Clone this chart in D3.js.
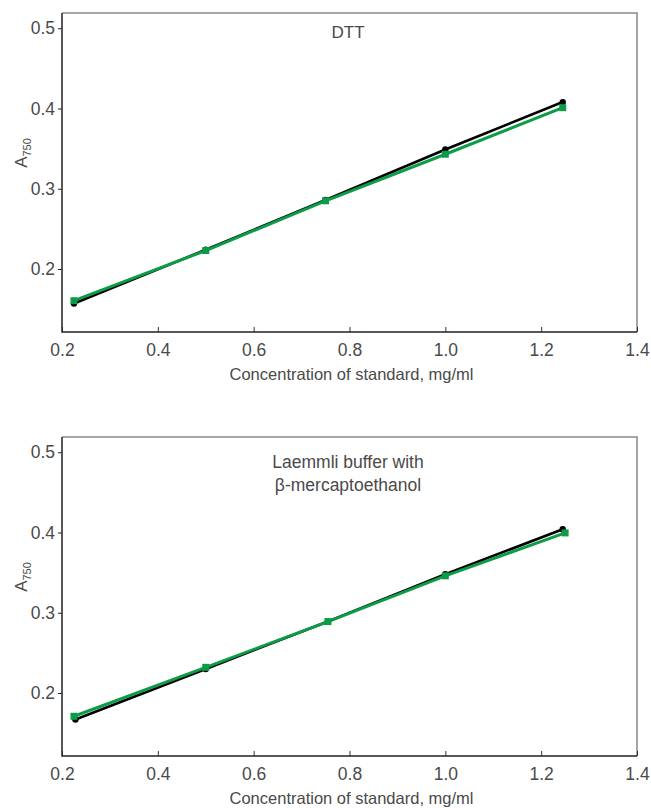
<!DOCTYPE html>
<html>
<head>
<meta charset="utf-8">
<script src="https://cdn.jsdelivr.net/npm/d3@7"></script>
<style>
  body { margin: 0; background: #fff; }
  text { font-family: "Liberation Sans", Arial, sans-serif; fill: #4a4a4a; }
</style>
</head>
<body>
<div id="chart"></div>
<script>
// data
const conc = [0.225, 0.5, 0.75, 1.0, 1.245];
const dttBlack = [0.157, 0.224, 0.286, 0.349, 0.408];
const dttGreen = [0.1605, 0.223, 0.285, 0.343, 0.401];
const concB = [0.228, 0.5, 0.755, 1.0, 1.245];
const concBGreen = [0.225, 0.5, 0.755, 1.0, 1.25];
const lbBlack = [0.167, 0.230, 0.289, 0.348, 0.404];
const lbGreen = [0.171, 0.232, 0.289, 0.346, 0.3995];
const xTicks = [0.2, 0.4, 0.6, 0.8, 1.0, 1.2, 1.4];
const yTicks = [0.2, 0.3, 0.4, 0.5];

const W = 651, H = 808;
const svg = d3.select("#chart").append("svg")
    .attr("width", W)
    .attr("height", H);

const GREEN = "#0c9c48";

function panel(top, titleLines, titleY, series) {
    const left = 62, right = 637, bottom = top + 319;
    const x = d3.scaleLinear().domain([0.2, 1.4]).range([left, right]);
    const y = d3.scaleLinear().domain([0.1215, 0.519]).range([bottom, top]);

    const g = svg.append("g");

    // frame: top/right grey
    g.append("path")
        .attr("d", `M${left},${top}H${right}V${bottom}`)
        .attr("fill", "none")
        .attr("stroke", "#888")
        .attr("stroke-width", 1.5);

    // y axis
    const ya = g.append("g")
        .attr("transform", `translate(${left},0)`)
        .call(d3.axisLeft(y).tickValues(yTicks).tickFormat(d3.format(".1f")).tickSizeOuter(0).tickSize(4).tickPadding(3));
    ya.select(".domain").remove();
    ya.selectAll(".tick line").attr("stroke", "#222");
    ya.selectAll(".tick text").style("font-size", "17.5px").attr("fill", "#4a4a4a");

    // x axis (ticks inside)
    const xa = g.append("g")
        .attr("transform", `translate(0,${bottom})`)
        .call(d3.axisBottom(x).tickValues(xTicks).tickFormat(d3.format(".1f")).tickSizeOuter(0).tickSize(-5).tickPadding(12));
    xa.select(".domain").remove();
    xa.selectAll(".tick line").attr("stroke", "#333");
    xa.selectAll(".tick text").style("font-size", "17.5px").attr("fill", "#4a4a4a");

    // left + bottom axis lines
    g.append("path")
        .attr("d", `M${left},${top}V${bottom}H${right}`)
        .attr("fill", "none")
        .attr("stroke", "#222")
        .attr("stroke-width", 1.5);

    // x label
    g.append("text")
        .attr("x", (left + right) / 2 + 2)
        .attr("y", bottom + 48)
        .attr("text-anchor", "middle")
        .style("font-size", "16.5px")
        .text("Concentration of standard, mg/ml");

    // y label A750
    const yl = g.append("text")
        .attr("transform", `translate(27,${top + 140}) rotate(-90)`)
        .attr("text-anchor", "middle")
        .style("font-size", "17px");
    yl.append("tspan").text("A");
    yl.append("tspan").attr("dy", 4).style("font-size", "11px").text("750");

    // title
    const t = g.append("text")
        .attr("x", 348)
        .attr("y", top + titleY)
        .attr("text-anchor", "middle")
        .style("font-size", titleLines.length > 1 ? "17.5px" : "17px");
    titleLines.forEach((s, i) => {
        t.append("tspan").attr("x", 348).attr("dy", i === 0 ? 0 : 23).text(s);
    });

    const line = d3.line().x(d => x(d[0])).y(d => y(d[1]));

    series.forEach(s => {
        const pts = s.xs.map((v, i) => [v, s.ys[i]]);
        g.append("path")
            .attr("d", line(pts))
            .attr("fill", "none")
            .attr("stroke", s.color)
            .attr("stroke-width", s.shape === "circle" ? 2.6 : 3);
        if (s.shape === "circle") {
            g.selectAll(null).data(pts).enter().append("circle")
                .attr("cx", d => x(d[0]))
                .attr("cy", d => y(d[1]))
                .attr("r", 3.2)
                .attr("fill", s.color);
        } else {
            g.selectAll(null).data(pts).enter().append("rect")
                .attr("x", d => x(d[0]) - 3.5)
                .attr("y", d => y(d[1]) - 3.5)
                .attr("width", 7)
                .attr("height", 7)
                .attr("fill", s.color);
        }
    });
}

panel(13, ["DTT"], 25, [
    { xs: conc, ys: dttBlack, color: "#000", shape: "circle" },
    { xs: conc, ys: dttGreen, color: GREEN, shape: "square" }
]);

panel(437, ["Laemmli buffer with", "\u03b2-mercaptoethanol"], 31, [
    { xs: concB, ys: lbBlack, color: "#000", shape: "circle" },
    { xs: concBGreen, ys: lbGreen, color: GREEN, shape: "square" }
]);
</script>
</body>
</html>
